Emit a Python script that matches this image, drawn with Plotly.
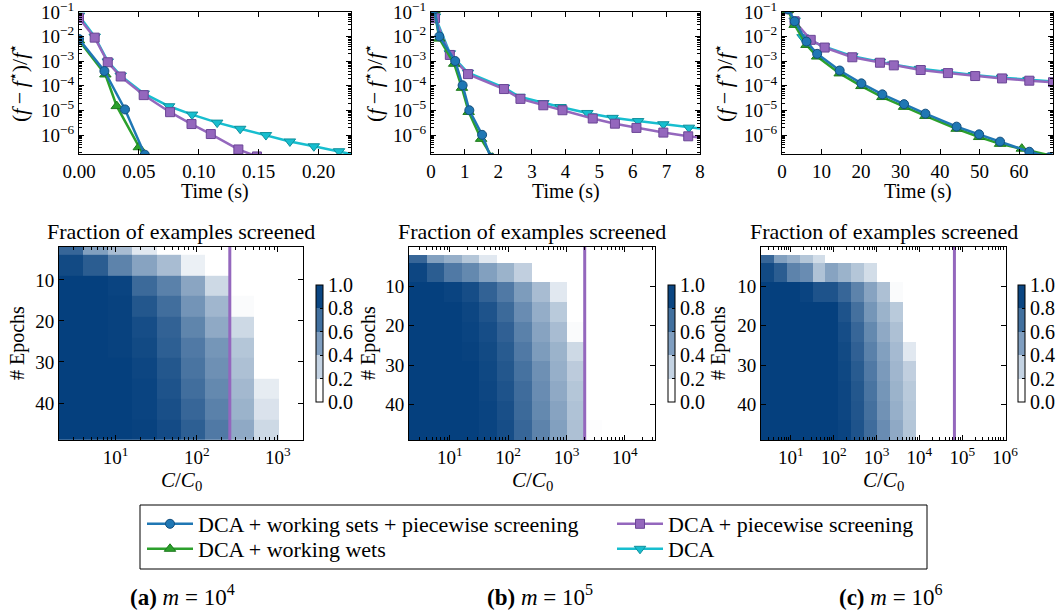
import math
import plotly.graph_objects as go

FONT = "Liberation Serif, serif"
BLUE, GREEN, PURPLE, CYAN = "#1f77b4", "#2ca02c", "#9467bd", "#17becf"

# ---------------- convergence curves, (f - f*)/f* vs time ----------------
# (a) m = 1e4
a_wsps_t = [0.0, 0.0212, 0.0384, 0.0549]
a_wsps_y = [8.0e-3, 4.0e-4, 1.1e-5, 1.6e-7]
a_ws_t = [0.0, 0.022, 0.0315, 0.0499, 0.056]
a_ws_y = [7.0e-3, 2.9e-4, 1.5e-5, 3.2e-7, 1.0e-7]
a_ps_t = [0.0, 0.0131, 0.024, 0.0348, 0.054, 0.076, 0.0939, 0.110, 0.133, 0.1485]
a_ps_y = [5.7e-2, 9.1e-3, 9.1e-4, 2.4e-4, 4.2e-5, 8.5e-6, 2.8e-6, 1.1e-6, 2.6e-7, 1.35e-7]
a_dca_t = [0.0, 0.0131, 0.024, 0.0348, 0.054, 0.0752, 0.0944, 0.1153, 0.1345, 0.156,
           0.176, 0.196, 0.217, 0.235]
a_dca_y = [7.1e-2, 1.0e-2, 9.8e-4, 2.6e-4, 4.9e-5, 1.48e-5, 6.8e-6, 3.2e-6, 1.8e-6, 1.0e-6,
           5.5e-7, 3.5e-7, 2.2e-7, 1.4e-7]

# (b) m = 1e5
b_wsps_t = [0.1, 0.248, 0.72, 0.94, 1.14, 1.52, 1.78]
b_wsps_y = [1.3e-1, 1.02e-2, 1.02e-3, 1.05e-4, 1.02e-5, 1.02e-6, 1.2e-7]
b_ws_t = [0.1, 0.248, 0.69, 0.92, 1.12, 1.49, 1.83]
b_ws_y = [1.2e-1, 8.3e-3, 7.9e-4, 8.3e-5, 8.7e-6, 7.0e-7, 1.2e-7]
b_ps_t = [0.12, 0.56, 1.1, 2.17, 2.66, 3.34, 3.91, 4.81, 5.47, 6.11, 6.91, 7.65, 8.3]
b_ps_y = [5.6e-2, 1.8e-3, 3.0e-4, 7.4e-5, 2.95e-5, 1.62e-5, 1.02e-5, 4.7e-6, 2.9e-6,
          1.95e-6, 1.26e-6, 8.9e-7, 7.1e-7]
b_dca_t = [0.12, 0.56, 1.1, 2.17, 2.63, 3.34, 3.85, 4.65, 5.4, 6.16, 6.91, 7.67, 8.3]
b_dca_y = [6.6e-2, 2.1e-3, 3.4e-4, 8.5e-5, 3.6e-5, 2.0e-5, 1.38e-5, 7.9e-6, 5.0e-6,
           3.7e-6, 2.75e-6, 2.0e-6, 1.66e-6]

# (c) m = 1e6
c_wsps_t = [1.5, 3.2, 6.2, 8.9, 14.6, 20.1, 25.4, 30.9, 36.3, 44.2, 49.9, 55.2, 62.6, 67.7]
c_wsps_y = [1.3e-1, 4.2e-2, 6.3e-3, 2.0e-3, 4.2e-4, 1.26e-4, 4.5e-5, 1.8e-5, 7.4e-6,
            2.2e-6, 1.07e-6, 5.4e-7, 2.1e-7, 1.26e-7]
c_ws_t = [1.5, 3.2, 6.2, 8.9, 14.6, 20.1, 25.4, 30.9, 36.3, 44.2, 49.9, 55.2, 60.7, 69.5]
c_ws_y = [1.2e-1, 3.0e-2, 4.6e-3, 1.55e-3, 3.2e-4, 9.8e-5, 3.5e-5, 1.4e-5, 6.0e-6,
          1.8e-6, 8.3e-7, 4.4e-7, 2.8e-7, 1.3e-7]
c_ps_t = [1.5, 3.2, 7.27, 10.8, 17.8, 24.8, 28.3, 35.1, 42.0, 48.9, 55.7, 62.6, 68.6]
c_ps_y = [1.3e-1, 4.2e-2, 7.4e-3, 3.6e-3, 1.45e-3, 8.7e-4, 6.8e-4, 4.4e-4, 3.3e-4,
          2.5e-4, 2.0e-4, 1.62e-4, 1.41e-4]
c_dca_t = [1.5, 3.2, 5.2, 10.6, 17.8, 24.8, 28.1, 34.9, 41.8, 48.6, 55.7, 62.4, 68.9]
c_dca_y = [1.3e-1, 4.5e-2, 9.5e-3, 4.0e-3, 1.6e-3, 9.5e-4, 7.4e-4, 4.9e-4, 3.6e-4,
           2.75e-4, 2.15e-4, 1.75e-4, 1.5e-4]

err_ticks = [1e-6, 1e-5, 1e-4, 1e-3, 1e-2, 1e-1]
err_labels = ["10<sup>−6</sup>", "10<sup>−5</sup>", "10<sup>−4</sup>", "10<sup>−3</sup>",
              "10<sup>−2</sup>", "10<sup>−1</sup>"]

# ---------------- fraction of examples screened ----------------
epoch_edges = [0, 2, 4, 9, 14, 19, 24, 29, 34, 39, 44, 49]
ratio_edges_a = [2, 4, 8, 16, 32, 64, 128, 256, 512, 1024, 2048]
ratio_edges_b = [2, 4, 8, 16, 32, 64, 128, 256, 512, 1024, 2048, 4096, 8192, 16384, 32768]
ratio_edges_c = [2, 4, 8, 16, 32, 64, 128, 256, 512, 1024, 2048, 4096, 8192, 16384,
                 32768, 65536, 131072, 262144, 524288, 1048576]
ratio_max = [256, 2048, 65536]   # purple vertical line
ratio_ticks = [10, 100, 1000, 10000, 100000, 1000000]
ratio_labels = ["10<sup>1</sup>", "10<sup>2</sup>", "10<sup>3</sup>", "10<sup>4</sup>",
                "10<sup>5</sup>", "10<sup>6</sup>"]

screened_a = [
    [0, 0, 0, 0, 0, 0, 0, 0, 0, 0],
    [0.8, 0.5, 0.35, 0.12, 0, 0, 0, 0, 0, 0],
    [0.95, 0.85, 0.65, 0.48, 0.35, 0.08, 0, 0, 0, 0],
    [1, 1, 0.98, 0.78, 0.66, 0.47, 0.2, 0, 0, 0],
    [1, 1, 0.99, 0.88, 0.76, 0.56, 0.38, 0.02, 0, 0],
    [1, 1, 0.99, 0.93, 0.82, 0.64, 0.45, 0.2, 0, 0],
    [1, 1, 0.99, 0.95, 0.84, 0.7, 0.55, 0.3, 0, 0],
    [1, 1, 1, 0.97, 0.88, 0.73, 0.58, 0.33, 0, 0],
    [1, 1, 1, 0.98, 0.9, 0.76, 0.62, 0.37, 0.1, 0],
    [1, 1, 1, 0.98, 0.92, 0.8, 0.66, 0.4, 0.15, 0],
    [1, 1, 1, 0.99, 0.94, 0.84, 0.7, 0.45, 0.2, 0],
]
screened_b = [
    [0] * 14,
    [0.8, 0.5, 0.42, 0.3, 0.12, 0, 0, 0, 0, 0, 0, 0, 0, 0],
    [0.97, 0.85, 0.7, 0.62, 0.5, 0.4, 0.25, 0, 0, 0, 0, 0, 0, 0],
    [1, 1, 0.98, 0.93, 0.82, 0.7, 0.52, 0.35, 0.12, 0, 0, 0, 0, 0],
    [1, 1, 1, 0.97, 0.9, 0.78, 0.6, 0.43, 0.28, 0, 0, 0, 0, 0],
    [1, 1, 1, 0.98, 0.93, 0.83, 0.66, 0.48, 0.35, 0.02, 0, 0, 0, 0],
    [1, 1, 1, 0.99, 0.95, 0.86, 0.7, 0.52, 0.4, 0.2, 0, 0, 0, 0],
    [1, 1, 1, 1, 0.96, 0.88, 0.74, 0.58, 0.42, 0.27, 0, 0, 0, 0],
    [1, 1, 1, 1, 0.97, 0.9, 0.77, 0.6, 0.45, 0.3, 0, 0, 0, 0],
    [1, 1, 1, 1, 0.98, 0.92, 0.78, 0.62, 0.48, 0.32, 0, 0, 0, 0],
    [1, 1, 1, 1, 0.98, 0.93, 0.8, 0.65, 0.5, 0.33, 0.01, 0, 0, 0],
]
screened_c = [
    [0] * 19,
    [0.8, 0.5, 0.42, 0.3, 0.18] + [0] * 14,
    [0.95, 0.85, 0.65, 0.6, 0.32, 0.48, 0.4, 0.3, 0.18] + [0] * 10,
    [1, 1, 1, 0.98, 0.9, 0.9, 0.8, 0.65, 0.48, 0.33, 0.02] + [0] * 8,
    [1, 1, 1, 1, 1, 1, 0.9, 0.75, 0.55, 0.4, 0.28] + [0] * 8,
    [1, 1, 1, 1, 1, 1, 0.93, 0.8, 0.62, 0.45, 0.33] + [0] * 8,
    [1, 1, 1, 1, 1, 1, 0.95, 0.83, 0.66, 0.5, 0.36, 0.12] + [0] * 7,
    [1, 1, 1, 1, 1, 1, 0.96, 0.86, 0.7, 0.53, 0.38, 0.25] + [0] * 7,
    [1, 1, 1, 1, 1, 1, 0.97, 0.88, 0.73, 0.55, 0.4, 0.28] + [0] * 7,
    [1, 1, 1, 1, 1, 1, 0.97, 0.89, 0.75, 0.57, 0.42, 0.29] + [0] * 7,
    [1, 1, 1, 1, 1, 1, 0.98, 0.9, 0.77, 0.6, 0.45, 0.3] + [0] * 7,
]

W, H = 1058, 613


def px(x):
    return x / W


def py(y):
    return 1 - y / H


def log_minor(lo, hi):
    # minor tick positions 2..9 x 10^e
    return [m * 10.0 ** e for e in range(lo, hi) for m in range(2, 10)]


fig = go.Figure()

series = [
    # name, colour, marker, edge, legend slot (drawing order: bottom first)
    ("DCA", CYAN, "triangle-down", "#0f8f9c", "legend4"),
    ("DCA + piecewise screening", PURPLE, "square", "#6b4696", "legend2"),
    ("DCA + working wets", GREEN, "triangle-up", "#1d7a1d", "legend3"),
    ("DCA + working sets + piecewise screening", BLUE, "circle", "#124e7d", "legend"),
]
panels = [
    ((a_dca_t, a_dca_y), (a_ps_t, a_ps_y), (a_ws_t, a_ws_y), (a_wsps_t, a_wsps_y)),
    ((b_dca_t, b_dca_y), (b_ps_t, b_ps_y), (b_ws_t, b_ws_y), (b_wsps_t, b_wsps_y)),
    ((c_dca_t, c_dca_y), (c_ps_t, c_ps_y), (c_ws_t, c_ws_y), (c_wsps_t, c_wsps_y)),
]
for p, curves in enumerate(panels):
    suffix = "" if p == 0 else str(p + 1)
    for (name, col, sym, edge, leg), (t, y) in zip(series, curves):
        fig.add_trace(go.Scatter(
            x=t, y=y, name=name, mode="lines+markers",
            line=dict(color=col, width=2.5),
            marker=dict(symbol=sym, size=10 if "triangle" in sym else 9, color=col,
                        line=dict(color=edge, width=1)),
            xaxis="x" + suffix, yaxis="y" + suffix,
            legend=leg, showlegend=(p == 0)))

heat_scale = [[0, "#ffffff"], [1, "#05407e"]]
bar_scale = [[0, "#ffffff"], [0.2, "#ffffff"], [0.2, "#c4d3e3"], [0.4, "#c4d3e3"],
             [0.4, "#7f9ec0"], [0.6, "#7f9ec0"], [0.6, "#41709f"], [0.8, "#41709f"],
             [0.8, "#0b4682"], [1, "#0b4682"]]
heat = [(ratio_edges_a, screened_a), (ratio_edges_b, screened_b), (ratio_edges_c, screened_c)]
cbar_x = [316, 668, 1018]
for i, (edges, z) in enumerate(heat):
    ax = str(i + 4)
    fig.add_trace(go.Heatmap(x=edges, y=epoch_edges, z=z, zmin=0, zmax=1,
                             colorscale=heat_scale, showscale=False,
                             xaxis="x" + ax, yaxis="y" + ax))
    fig.add_trace(go.Scatter(x=[ratio_max[i], ratio_max[i]],
                             y=[epoch_edges[0], epoch_edges[-1]], mode="lines",
                             line=dict(color=PURPLE, width=3), showlegend=False,
                             xaxis="x" + ax, yaxis="y" + ax))
    fig.add_trace(go.Scatter(
        x=[None, None], y=[None, None], mode="markers", showlegend=False,
        marker=dict(color=[0, 1], cmin=0, cmax=1, colorscale=bar_scale, showscale=True,
                    colorbar=dict(x=px(cbar_x[i]), xanchor="left", y=py(343.5),
                                  yanchor="middle", len=117 / H, thickness=7,
                                  xpad=0, ypad=0, outlinecolor="black", outlinewidth=1,
                                  tickvals=[0, 0.2, 0.4, 0.6, 0.8, 1.0],
                                  ticktext=["0.0", "0.2", "0.4", "0.6", "0.8", "1.0"],
                                  ticks="inside", ticklen=3, tickcolor="black",
                                  tickfont=dict(family=FONT, size=20, color="black"))),
        xaxis="x" + ax, yaxis="y" + ax))

axis_base = dict(showline=True, linecolor="black", linewidth=1, mirror="allticks",
                 ticks="inside", ticklen=5, tickcolor="black", showgrid=False,
                 zeroline=False, ticklabeloverflow="allow",
                 tickfont=dict(family=FONT, size=19, color="black"))


def minor(vals):
    return dict(tickmode="array", tickvals=vals, ticks="inside", ticklen=3,
                tickcolor="black", showgrid=False)


top_x = [(79, 351, [0, 0.227], 0.05, ".2f"), (431, 700, [0, 8], 1, "d"),
         (782, 1053, [0, 68.6], 10, "d")]
layout = {}
for i, (x0, x1, rng, dt, fmt) in enumerate(top_x):
    s = "" if i == 0 else str(i + 1)
    layout["xaxis" + s] = dict(axis_base, domain=[px(x0), px(x1)], range=rng, dtick=dt,
                               tick0=0, tickformat=fmt, anchor="y" + s)
    layout["yaxis" + s] = dict(axis_base, domain=[py(154), py(12)], type="log",
                               range=[-6.77, -0.999], tickvals=err_ticks,
                               ticktext=err_labels, minor=minor(log_minor(-7, -1)),
                               anchor="x" + s)

heat_x = [(59, 303, ratio_edges_a, [49, 2]), (409, 655, ratio_edges_b, [49, 0]),
          (761, 1006, ratio_edges_c, [49, 0])]
for i, (x0, x1, edges, yr) in enumerate(heat_x):
    s = str(i + 4)
    layout["xaxis" + s] = dict(axis_base, domain=[px(x0), px(x1)], type="log",
                               range=[math.log10(edges[0]), math.log10(edges[-1])],
                               tickvals=ratio_ticks, ticktext=ratio_labels,
                               minor=minor(log_minor(0, 7)), anchor="y" + s)
    layout["yaxis" + s] = dict(axis_base, domain=[py(440), py(247)], range=yr,
                               tickvals=[10, 20, 30, 40], anchor="x" + s)

ann = []


def text(x, y, s, size=20, angle=0):
    ann.append(dict(x=px(x), y=py(y), xref="paper", yref="paper", text=s,
                    showarrow=False, textangle=angle, xanchor="center", yanchor="middle",
                    font=dict(family=FONT, size=size, color="black")))


ytitle = "(<i>f</i>\u2009−\u2009<i>f</i><sup>⋆</sup>)/<i>f</i><sup>⋆</sup>"
for xt, (x0, x1, _, _, _) in zip([18, 373, 723], top_x):
    text(xt, 83, ytitle, size=22, angle=-90)
    text((x0 + x1) / 2, 192, "Time (s)")
for xt, (x0, x1, _, _) in zip([17, 368, 718], heat_x):
    text((x0 + x1) / 2, 231, "Fraction of examples screened", size=22)
    text(xt, 343, "# Epochs", angle=-90)
    text((x0 + x1) / 2, 481, "<i>C</i>/<i>C</i><sub>0</sub>", size=21)
for xc, lab, e in [(182, "a", 4), (540, "b", 5), (890, "c", 6)]:
    text(xc, 595, "<b>(%s)</b> <i>m</i>\u00a0=\u00a010<sup>%d</sup>" % (lab, e), size=23)

legend_font = dict(family=FONT, size=22, color="black")
legend_pos = {"legend": (142, 524), "legend2": (612, 524),
              "legend3": (142, 549), "legend4": (612, 549)}
legends = {k: dict(x=px(x), y=py(y), xanchor="left", yanchor="middle", font=legend_font,
                   itemwidth=46, bgcolor="rgba(0,0,0,0)", borderwidth=0)
           for k, (x, y) in legend_pos.items()}

fig.update_layout(
    **layout, **legends,
    annotations=ann,
    width=W, height=H, margin=dict(l=0, r=0, t=0, b=0, autoexpand=False),
    paper_bgcolor="white", plot_bgcolor="white",
    shapes=[dict(type="rect", xref="paper", yref="paper", x0=px(140), x1=px(927),
                 y0=py(569), y1=py(505), line=dict(color="black", width=1))],
)

# drop the browser's default 8px body margin so the figure sits at (0, 0)
fig.write_html("out.html", config={"displayModeBar": False},
               post_script="document.body.style.margin = '0';")
